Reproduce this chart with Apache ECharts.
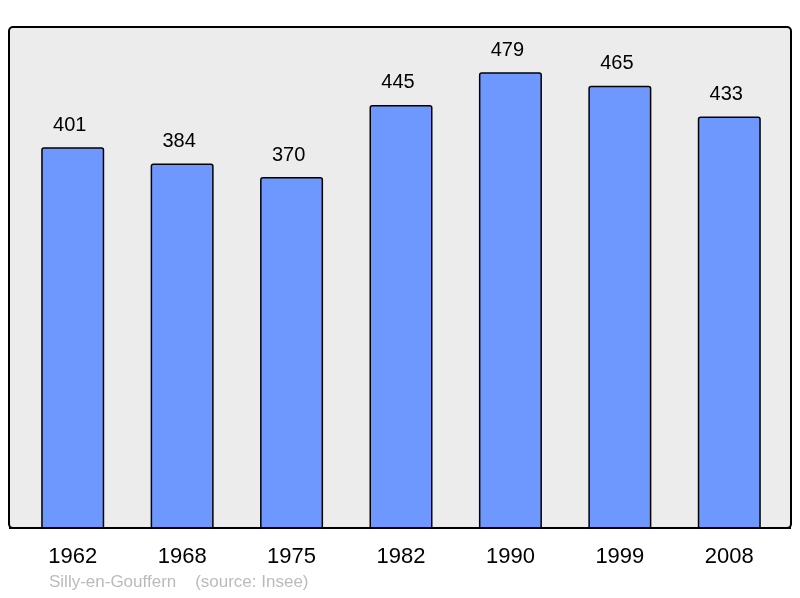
<!DOCTYPE html>
<html><head><meta charset="utf-8">
<script src="https://cdn.jsdelivr.net/npm/echarts@6/dist/echarts.min.js"></script>
<style>html,body{margin:0;padding:0;background:#fff}#c{width:800px;height:598px}</style>
</head><body><div id="c"></div>
<script>
const years = ['1962','1968','1975','1982','1990','1999','2008'];
const population = [401, 384, 370, 445, 479, 465, 433];
const chart = echarts.init(document.getElementById('c'), null, {renderer:'canvas'});
chart.setOption({
  animation:false,
  graphic:[
    {type:'rect', z:-10, shape:{x:9,y:27,width:782,height:501,r:4}, style:{fill:'#ececec', stroke:'#000', lineWidth:2}},
    {type:'text', left:49, top:574, style:{text:'Silly-en-Gouffern    (source: Insee)', fill:'#bbbbbb', font:'17px "Liberation Sans", Arial, sans-serif'}},
    {type:'rect', z:100, shape:{x:0,y:529,width:800,height:6}, style:{fill:'#fff'}},
    {type:'line', z:101, shape:{x1:9,y1:528,x2:791,y2:528}, style:{stroke:'#000', lineWidth:2}}
  ],
  grid:{left:18, top:27, width:766, height:506},
  xAxis:{type:'category', data:years, axisLine:{show:false}, axisTick:{show:false},
    axisLabel:{fontFamily:'Liberation Sans, Arial, sans-serif', fontSize:22, color:'#000', margin:13}},
  yAxis:{type:'value', min:0, max:526, show:false, splitLine:{show:false}},
  series:[{type:'bar', data:population, barWidth:63,
    itemStyle:{color:'#6f98ff', borderColor:'#000', borderWidth:1.5, borderRadius:2},
    label:{show:true, position:'top', distance:12, offset:[-3,0], fontFamily:'Liberation Sans, Arial, sans-serif', fontSize:20, color:'#000'}
  }]
});
</script></body></html>
